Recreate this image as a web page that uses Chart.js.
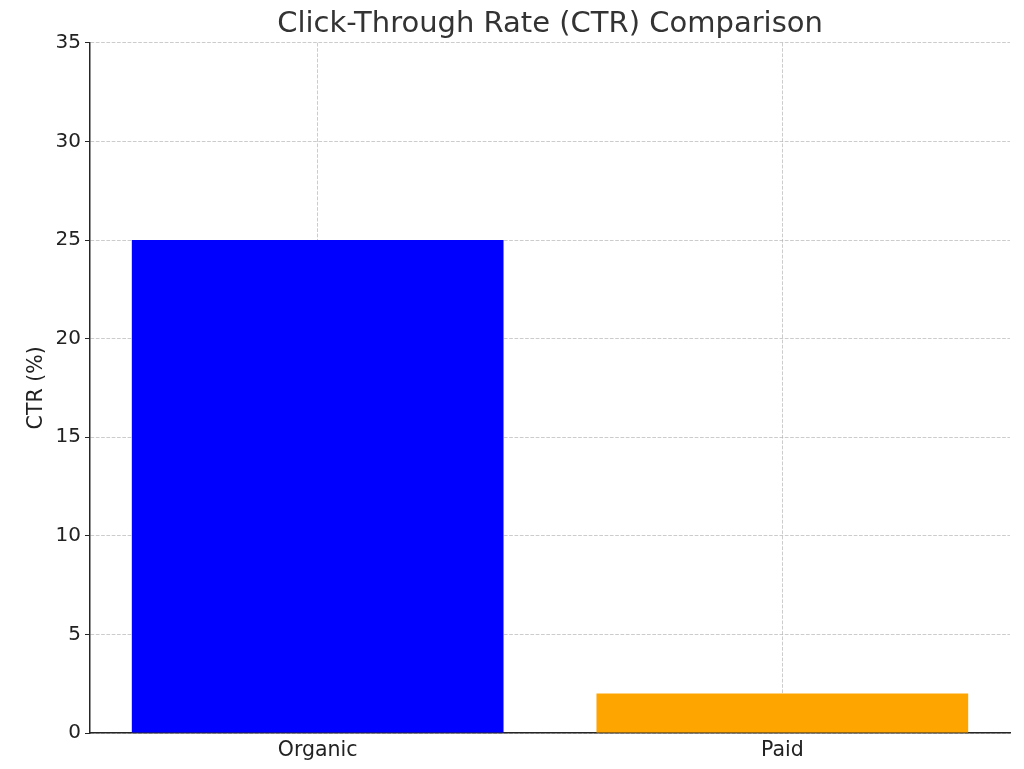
<!DOCTYPE html>
<html>
<head>
<meta charset="utf-8">
<script src="https://cdn.jsdelivr.net/npm/chart.js@4/dist/chart.umd.min.js"></script>
<style>
  html, body { margin: 0; padding: 0; background: #ffffff; }
  #wrap { width: 1024px; height: 769px; }
</style>
</head>
<body>
<div id="wrap"><canvas id="c" width="1024" height="769"></canvas></div>
<script>
const categories = ["Organic", "Paid"];
const ctrValues = [25, 2];
const barColors = ["#0000ff", "#ffa500"];
const yTicks = [0, 5, 10, 15, 20, 25, 30, 35];

const FONT = "'DejaVu Sans', sans-serif";
const gridColor = "rgba(176,176,176,0.65)";
const axisColor = "#262626";

new Chart(document.getElementById("c"), {
  type: "bar",
  data: {
    datasets: [{
      data: categories.map((c, i) => ({ x: i, y: ctrValues[i] })),
      backgroundColor: barColors,
      borderWidth: 0,
      barPercentage: 0.8,
      categoryPercentage: 1.0
    }]
  },
  options: {
    responsive: false,
    devicePixelRatio: 1,
    animation: false,
    layout: { padding: { left: 0, right: 14, top: 0, bottom: 0 } },
    plugins: {
      legend: { display: false },
      tooltip: { enabled: false },
      title: {
        display: true,
        fullSize: false,
        text: "Click-Through Rate (CTR) Comparison",
        color: "#333333",
        font: { family: FONT, size: 29, weight: "normal", lineHeight: 1.2 },
        padding: { top: 7, bottom: 1 }
      }
    },
    scales: {
      x: {
        type: "linear",
        min: -0.49,
        max: 1.49,
        offset: false,
        z: 1,
        afterBuildTicks: (s) => { s.ticks = categories.map((c, i) => ({ value: i })); },
        afterFit: (s) => { s.height = 36; },
        ticks: {
          callback: (v) => categories[v],
          color: "#222222",
          font: { family: FONT, size: 20.5 },
          padding: 5,
          maxRotation: 0,
          autoSkip: false
        },
        grid: {
          offset: false,
          color: gridColor,
          lineWidth: 1,
          drawTicks: false
        },
        border: { display: true, color: axisColor, width: 1.5, dash: [3.7, 1.6] }
      },
      y: {
        type: "linear",
        min: 0,
        max: 35,
        z: 1,
        afterBuildTicks: (s) => { s.ticks = yTicks.map(v => ({ value: v })); },
        afterFit: (s) => { s.width = 90; },
        title: {
          display: true,
          text: "CTR (%)",
          color: "#222222",
          font: { family: FONT, size: 20.5, lineHeight: 1.2 },
          padding: { top: 24, bottom: 0 }
        },
        ticks: {
          color: "#222222",
          font: { family: FONT, size: 20 },
          padding: 4
        },
        grid: {
          color: gridColor,
          lineWidth: 1,
          drawTicks: true,
          tickLength: 5,
          tickColor: axisColor,
          tickBorderDash: []
        },
        border: { display: true, color: axisColor, width: 1.5, dash: [3.7, 1.6] }
      }
    }
  }
});
</script>
</body>
</html>
